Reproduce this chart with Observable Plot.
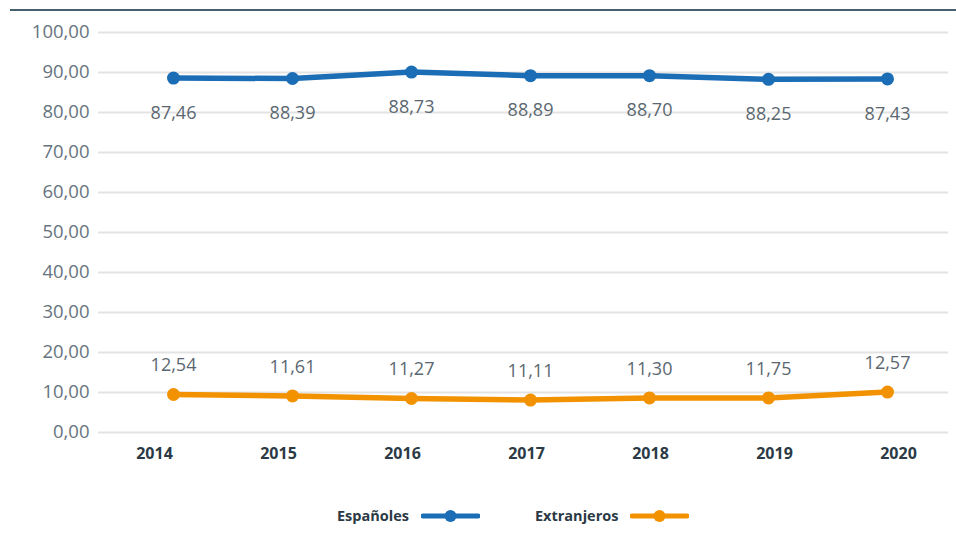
<!DOCTYPE html>
<html><head><meta charset="utf-8">
<script src="https://cdn.jsdelivr.net/npm/d3@7"></script>
<script src="https://cdn.jsdelivr.net/npm/@observablehq/plot@0.6"></script>
<style>
body{margin:0;background:#fff;font-family:"Open Sans",sans-serif;}
#wrap{position:relative;width:956px;height:533px;overflow:hidden;}
#topline{position:absolute;left:10px;right:0;top:9px;border-top:2px solid #46606e;}
#chart,#axis{position:absolute;left:0;top:0;}
#legend{position:absolute;top:506px;left:337px;display:flex;align-items:center;font-weight:700;font-size:14.5px;color:#2b3a45;}
#legend .item{display:flex;align-items:center;}
#legend svg{margin-left:12px;}
</style></head>
<body><div id="wrap"><div id="topline"></div><div id="chart"></div><div id="axis"></div><div id="legend"></div></div>
<script>
// Data
const years = ["2014","2015","2016","2017","2018","2019","2020"];
const seriesNames = ["Españoles","Extranjeros"];
const seriesColors = ["#1b6db5","#f39200"];
// values printed as labels
const espanoles = [87.46, 88.39, 88.73, 88.89, 88.70, 88.25, 87.43];
const extranjeros = [12.54, 11.61, 11.27, 11.11, 11.30, 11.75, 12.57];
// values where the markers are drawn in the picture
const espanolesPlotted = [88.6, 88.5, 90.1, 89.2, 89.2, 88.3, 88.4];
const extranjerosPlotted = [9.5, 9.15, 8.5, 8.1, 8.65, 8.65, 10.1];
const yTicks = [0,10,20,30,40,50,60,70,80,90,100];

const loc = d3.formatLocale({decimal:",", thousands:".", grouping:[3], currency:["","€"]});
const f2 = loc.format(".2f");

const esp = years.map((y,i)=>({year:y, v:espanolesPlotted[i], label:espanoles[i], s:seriesNames[0]}));
const ext = years.map((y,i)=>({year:y, v:extranjerosPlotted[i], label:extranjeros[i], s:seriesNames[1]}));

const W = 956, H = 490;
const common = {
  width: W, height: H,
  marginLeft: 98, marginRight: 8, marginTop: 32, marginBottom: 58,
  y: {domain:[0,100]},
  style: {fontFamily:'"Open Sans", sans-serif', background:"transparent"}
};

const chart = Plot.plot({
  ...common,
  x: {type:"point", domain: years, range:[171, 889], padding:0, axis: null},
  marks: [
    Plot.ruleY(yTicks, {stroke:"#e3e3e3", strokeWidth:2}),
    Plot.axisY({ticks: yTicks, tickSize:0, tickPadding:9, tickFormat: f2, fontSize:18.5, fill:"#66747d", label:null}),
    Plot.line(esp, {x:"year", y:"v", stroke:seriesColors[0], strokeWidth:5.5}),
    Plot.dot(esp, {x:"year", y:"v", r:6.5, fill:seriesColors[0]}),
    Plot.line(ext, {x:"year", y:"v", stroke:seriesColors[1], strokeWidth:5.5}),
    Plot.dot(ext, {x:"year", y:"v", r:6.5, fill:seriesColors[1]}),
    Plot.text(esp, {x:"year", y:"v", text: d=>f2(d.label), dy:35, fontSize:18, fill:"#5b6770"}),
    Plot.text(ext, {x:"year", y:"v", text: d=>f2(d.label), dy:-29, fontSize:18, fill:"#5b6770"})
  ]
});
document.getElementById("chart").appendChild(chart);

const axis = Plot.plot({
  ...common,
  x: {type:"point", domain: years, range:[153, 898], padding:0},
  marks: [
    Plot.axisX({tickSize:0, tickPadding:15, fontSize:16, fontWeight:700, fill:"#2b3a45", label:null}),
    Plot.axisY({ticks:[], label:null, tickSize:0})
  ]
});
document.getElementById("axis").appendChild(axis);

// Legend
const leg = d3.select("#legend");
seriesNames.forEach((name,i)=>{
  const it = leg.append("div").attr("class","item").style("margin-right", i===0 ? "55px" : "0");
  it.append("span").text(name);
  const s = it.append("svg").attr("width",59).attr("height",14);
  s.append("line").attr("x1",2).attr("x2",57).attr("y1",7).attr("y2",7).attr("stroke",seriesColors[i]).attr("stroke-width",5).attr("stroke-linecap","round");
  s.append("circle").attr("cx",29.5).attr("cy",7).attr("r",6).attr("fill",seriesColors[i]);
});
</script>
</body></html>
